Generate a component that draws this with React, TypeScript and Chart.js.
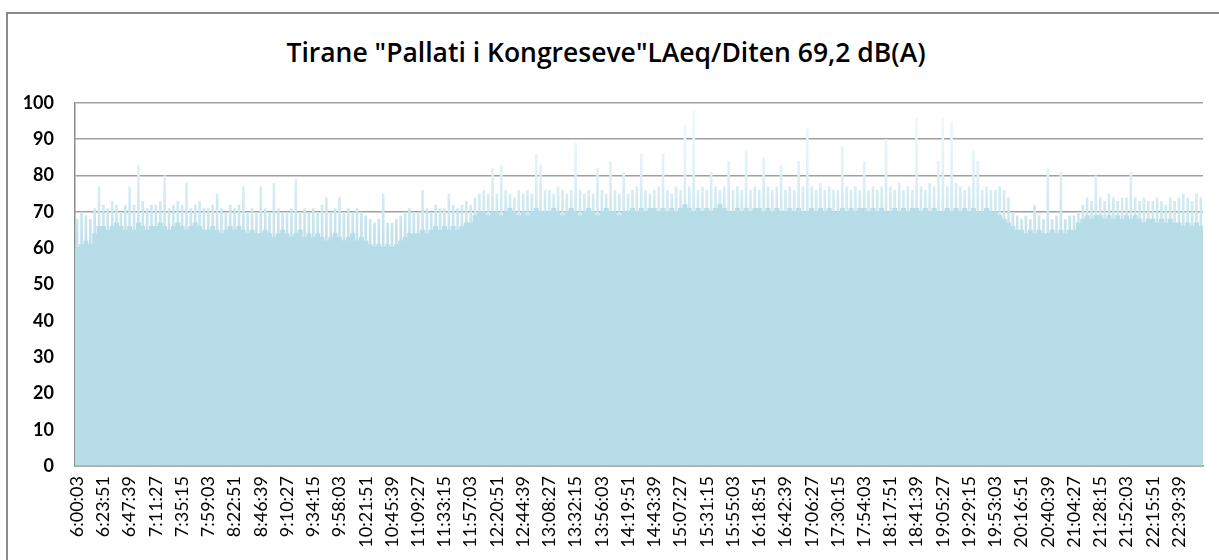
import React, { useEffect, useRef } from "react";
import { Chart, registerables } from "chart.js";

Chart.register(...registerables);

const TITLE = 'Tirane "Pallati i Kongreseve"LAeq/Diten 69,2 dB(A)';

// x tick labels (one every 23 min 48 s)
const TICK_LABELS = [
  "6:00:03", "6:23:51", "6:47:39", "7:11:27", "7:35:15", "7:59:03", "8:22:51", "8:46:39",
  "9:10:27", "9:34:15", "9:58:03", "10:21:51", "10:45:39", "11:09:27", "11:33:15", "11:57:03",
  "12:20:51", "12:44:39", "13:08:27", "13:32:15", "13:56:03", "14:19:51", "14:43:39", "15:07:27",
  "15:31:15", "15:55:03", "16:18:51", "16:42:39", "17:06:27", "17:30:15", "17:54:03", "18:17:51",
  "18:41:39", "19:05:27", "19:29:15", "19:53:03", "20:16:51", "20:40:39", "21:04:27", "21:28:15",
  "21:52:03", "22:15:51", "22:39:39",
];
// samples read between two consecutive tick labels
const SAMPLES_PER_TICK = 6;

const Y_TICKS = [0, 10, 20, 30, 40, 50, 60, 70, 80, 90, 100];

// dense (solid) level of the noise, dB(A)
const BODY_LEVEL = [
  60, 61, 62, 61, 64, 66,
  66, 65, 66, 67, 66, 65,
  66, 65, 67, 66, 65, 66,
  66, 67, 66, 65, 66, 67,
  66, 65, 66, 67, 66, 65,
  65, 66, 65, 64, 65, 66,
  65, 66, 65, 64, 65, 64,
  64, 65, 64, 63, 64, 65,
  64, 63, 64, 65, 63, 64,
  63, 64, 63, 62, 63, 64,
  63, 62, 63, 64, 62, 63,
  62, 61, 60, 61, 60, 61,
  60, 61, 62, 63, 64, 64,
  64, 65, 64, 65, 66, 65,
  66, 65, 66, 65, 66, 67,
  67, 69, 70, 70, 69, 70,
  70, 69, 70, 71, 70, 69,
  70, 69, 70, 71, 70, 70,
  70, 71, 70, 69, 70, 71,
  70, 69, 70, 71, 70, 69,
  70, 71, 70, 70, 69, 70,
  70, 71, 70, 71, 70, 71,
  71, 70, 71, 70, 71, 70,
  71, 72, 71, 70, 71, 70,
  71, 70, 71, 72, 71, 70,
  70, 71, 70, 71, 70, 71,
  71, 70, 71, 70, 71, 70,
  70, 71, 70, 71, 70, 70,
  71, 70, 71, 70, 71, 70,
  70, 71, 70, 71, 70, 71,
  71, 70, 71, 70, 71, 70,
  70, 71, 70, 71, 70, 71,
  71, 70, 71, 70, 71, 70,
  70, 71, 70, 71, 70, 71,
  70, 71, 70, 70, 71, 70,
  70, 69, 68, 67, 66, 65,
  65, 64, 65, 64, 65, 64,
  64, 65, 64, 65, 64, 65,
  65, 67, 68, 69, 68, 69,
  69, 68, 69, 68, 69, 68,
  69, 68, 69, 68, 67, 68,
  68, 67, 68, 67, 68, 67,
  67, 66, 67, 66, 67, 66,
];

// peak level (upper fuzz and spikes), dB(A)
const PEAK_LEVEL = [
  68, 70, 69, 68, 71, 77,
  72, 71, 73, 72, 70, 72,
  77, 72, 83, 73, 71, 72,
  72, 73, 80, 71, 72, 73,
  72, 78, 71, 72, 73, 71,
  71, 72, 75, 71, 70, 72,
  71, 72, 77, 70, 71, 70,
  77, 71, 70, 78, 71, 70,
  70, 71, 79, 70, 71, 70,
  71, 70, 72, 74, 70, 71,
  74, 70, 71, 70, 71, 70,
  69, 68, 67, 68, 75, 67,
  67, 68, 69, 70, 71, 70,
  70, 76, 71, 70, 72, 71,
  71, 75, 72, 71, 72, 73,
  72, 74, 75, 76, 75, 82,
  75, 83, 76, 75, 74, 76,
  75, 76, 75, 86, 83, 76,
  76, 75, 77, 76, 75, 76,
  89, 76, 75, 76, 75, 82,
  76, 75, 84, 76, 75, 81,
  75, 76, 77, 86, 76, 75,
  76, 77, 86, 76, 75, 77,
  76, 94, 77, 98, 76, 77,
  76, 81, 77, 76, 77, 84,
  76, 77, 76, 87, 76, 77,
  76, 85, 77, 76, 77, 83,
  76, 77, 76, 84, 77, 93,
  77, 76, 78, 76, 77, 76,
  76, 88, 77, 76, 77, 76,
  84, 76, 77, 76, 77, 90,
  77, 76, 78, 76, 77, 76,
  96, 77, 76, 78, 77, 84,
  96, 77, 95, 78, 77, 76,
  77, 87, 84, 76, 77, 76,
  76, 77, 76, 74, 70, 69,
  68, 69, 68, 72, 69, 68,
  82, 68, 69, 81, 68, 69,
  69, 70, 72, 74, 73, 80,
  74, 73, 75, 74, 73, 74,
  74, 81, 74, 73, 74, 73,
  73, 74, 73, 72, 74, 73,
  74, 75, 74, 73, 75, 74,
];

const FONT = "Lato, 'Open Sans', 'DejaVu Sans', sans-serif";
const TITLE_FONT = "'Open Sans', Lato, 'DejaVu Sans', sans-serif";

export default function App() {
  const canvasRef = useRef<HTMLCanvasElement | null>(null);

  useEffect(() => {
    if (!canvasRef.current) return;
    const categories = BODY_LEVEL.map((_, i) =>
      i % SAMPLES_PER_TICK === 0 ? TICK_LABELS[i / SAMPLES_PER_TICK] ?? "" : ""
    );

    const peakFill = (ctx: any) => {
      const chart = ctx.chart;
      const { chartArea, scales } = chart;
      if (!chartArea || !scales.y) return "#D3EBF2";
      const y0 = scales.y.getPixelForValue(62);
      const y1 = scales.y.getPixelForValue(100);
      const g = chart.ctx.createLinearGradient(0, y0, 0, y1);
      g.addColorStop(0, "#BEE0EA");
      g.addColorStop(0.25, "#CFE9F0");
      g.addColorStop(0.55, "#E2F2F7");
      g.addColorStop(1, "#F3FAFC");
      return g;
    };

    const chart = new Chart(canvasRef.current, {
      type: "bar",
      data: {
        labels: categories,
        datasets: [
          {
            label: "Body",
            data: BODY_LEVEL,
            backgroundColor: "#B7DDE8",
            borderWidth: 0,
            barPercentage: 1,
            categoryPercentage: 1,
            grouped: false,
            order: 0,
          },
          {
            label: "Peak",
            data: PEAK_LEVEL,
            backgroundColor: peakFill,
            borderWidth: 0,
            barPercentage: 0.6,
            categoryPercentage: 1,
            grouped: false,
            order: 1,
          },
        ],
      },
      options: {
        animation: false,
        responsive: false,
        maintainAspectRatio: false,
        layout: { padding: { top: 103, right: 16, bottom: 0, left: 0 } },
        plugins: {
          legend: { display: false },
          title: { display: false },
          tooltip: { enabled: false },
        },
        scales: {
          x: {
            type: "category",
            offset: true,
            grid: { display: false, drawTicks: false },
            border: { display: true, color: "#8C8C8C", width: 1.5 },
            ticks: {
              autoSkip: false,
              maxRotation: 90,
              minRotation: 90,
              padding: 10,
              color: "#000000",
              font: { family: FONT, size: 18 },
              callback: (_v: any, index: number) => categories[index],
            },
            afterFit: (s: any) => {
              s.height = 94;
              s.paddingLeft = 0;
              s.paddingRight = 0;
            },
          },
          y: {
            min: 0,
            max: 100,
            afterBuildTicks: (s: any) => {
              s.ticks = Y_TICKS.map((v) => ({ value: v }));
            },
            grid: { color: "#A0A0A0", lineWidth: 1.6, drawTicks: false },
            border: { display: true, color: "#8C8C8C", width: 1.5 },
            ticks: {
              padding: 21,
              color: "#000000",
              font: { family: FONT, size: 18, weight: "bold" },
            },
            afterFit: (s: any) => {
              s.width = 75;
            },
          },
        },
      },
    });
    return () => chart.destroy();
  }, []);

  return (
    <div
      style={{
        position: "absolute",
        left: 0,
        top: 0,
        width: 1219,
        height: 560,
        overflow: "hidden",
        background: "#ffffff",
      }}
    >
      <div
        style={{
          position: "absolute",
          left: 6,
          top: 12,
          width: 1300,
          height: 700,
          border: "2px solid #8A8A8A",
          boxSizing: "border-box",
        }}
      />
      <div
        style={{
          position: "absolute",
          left: 106,
          width: 1000,
          top: 39,
          textAlign: "center",
          fontFamily: TITLE_FONT,
          fontWeight: 600,
          fontSize: 26.5,
          lineHeight: "27px",
          color: "#000000",
          whiteSpace: "nowrap",
        }}
      >
        {TITLE}
      </div>
      <canvas
        ref={canvasRef}
        width={1219}
        height={560}
        style={{ position: "absolute", left: 0, top: 0, width: 1219, height: 560 }}
      />
    </div>
  );
}
